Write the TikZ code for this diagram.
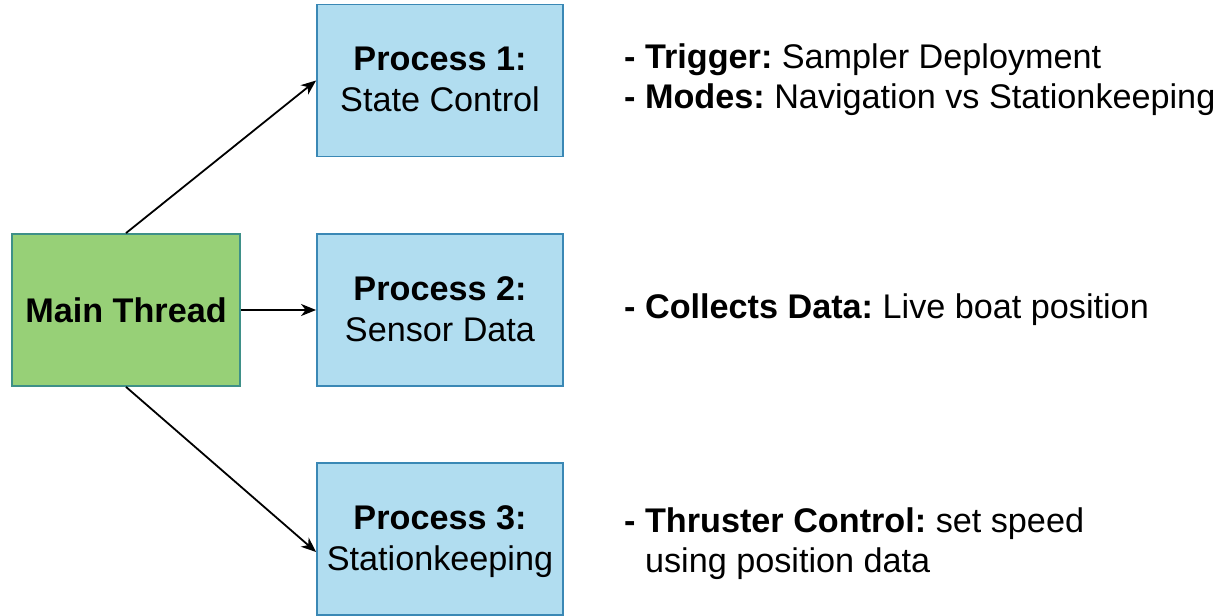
\documentclass[tikz,border=0pt]{standalone}
\usepackage{fontspec}
\setmainfont{Liberation Sans}
\usetikzlibrary{arrows.meta}
\frenchspacing
\definecolor{mainfill}{HTML}{97D077}
\definecolor{maindraw}{HTML}{3E9088}
\definecolor{procfill}{HTML}{B1DDF0}
\definecolor{procdraw}{HTML}{3A88B5}
\tikzset{
  box/.style={rectangle, line width=1.8bp, align=center,
    minimum width=246bp, minimum height=152bp, inner sep=0pt,
    text height=64.5bp, text depth=2.5bp,
    font=\fontsize{34.2bp}{40.5bp}\selectfont},
  procbox/.style={box, fill=procfill, draw=procdraw},
  mainbox/.style={box, fill=mainfill, draw=maindraw, minimum width=228bp,
    text height=24bp, text depth=0bp},
  note/.style={anchor=base west, inner sep=0pt, align=left,
    font=\fontsize{34.2bp}{40bp}\selectfont},
  link/.style={line width=1.8bp, -{Stealth[length=15bp,width=12bp,inset=4.5bp]}}
}
\begin{document}
\begin{tikzpicture}[x=1bp,y=-1bp]
  \useasboundingbox (0,0) rectangle (1221,616);

  % thread and processes
  \node[mainbox] (main) at (126,310) {\textbf{Main Thread}};
  \node[procbox] (p1) at (440,80.5) {\textbf{Process 1:}\\State Control};
  \node[procbox] (p2) at (440,310) {\textbf{Process 2:}\\Sensor Data};
  \node[procbox] (p3) at (440,539) {\textbf{Process 3:}\\Stationkeeping};

  % spawning arrows
  \draw[link] (main.north) -- (p1.west);
  \draw[link] (main.east) -- (p2.west);
  \draw[link] (main.south) -- ([yshift=-13bp]p3.west);

  % descriptions of each process
  \node[note] (n1) at (624,69) {\textbf{- Trigger:} Sampler Deployment};
  \node[note] (n1b) at (624,109) {\textbf{- Modes:} Navigation vs Stationkeeping};
  \node[note] (n2) at (624,319) {\textbf{- Collects Data:} Live boat position};
  \node[note] (n3) at (624,532) {\textbf{- Thruster Control:} set speed};
  \node[note] (n3b) at (624,572) {\phantom{\textbf{- }}using position data};
\end{tikzpicture}
\end{document}
